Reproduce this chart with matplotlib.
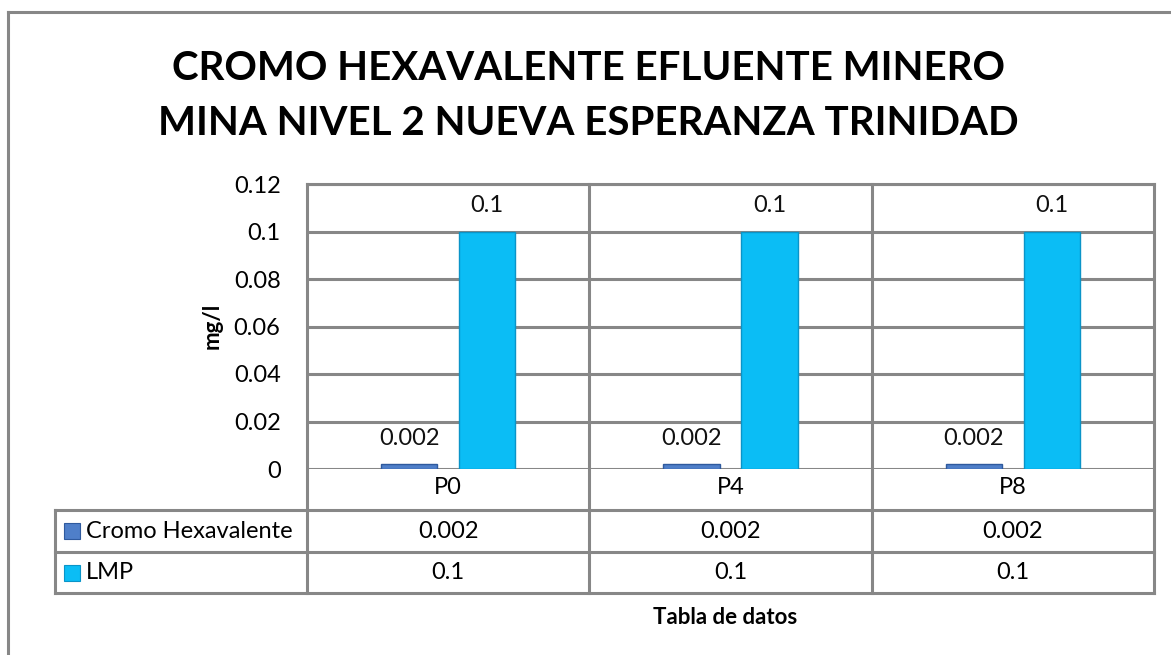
import matplotlib.pyplot as plt
from matplotlib.lines import Line2D
from matplotlib.patches import Rectangle
import matplotlib.transforms as mtransforms

# data
categories = ["P0", "P4", "P8"]
series_names = ["Cromo Hexavalente", "LMP"]
cromo = [0.002, 0.002, 0.002]
lmp = [0.1, 0.1, 0.1]
yticks = [0, 0.02, 0.04, 0.06, 0.08, 0.1, 0.12]
ytick_labels = ["0", "0.02", "0.04", "0.06", "0.08", "0.1", "0.12"]

W, H = 1171, 655
GRID = "#878787"
COLORS = ["#4F7FC9", "#0BBDF5"]
EDGES = ["#2F5A9E", "#0A94C8"]
FS = 17

plt.rcParams["font.family"] = ["Lato", "DejaVu Sans"]

fig = plt.figure(figsize=(W / 100, H / 100), dpi=100)


def fx(px):
    return px / W


def fy(py):
    return 1 - py / H


# plot area (pixel box of the reference)
left, right, top, bottom = 307, 1154, 184, 469
ax = fig.add_axes([fx(left), fy(bottom), fx(right - left), fy(top) - fy(bottom)])

n = len(categories)
x = list(range(n))
width = 0.2
offset = 0.138
series = [cromo, lmp]
for k, vals in enumerate(series):
    xs = [i + (2 * k - 1) * offset for i in x]
    ax.bar(xs, vals, width, color=COLORS[k], edgecolor=EDGES[k], linewidth=1.0, zorder=3)
    for xi, v in zip(xs, vals):
        ax.annotate(f"{v:g}", (xi, v), xytext=(0, 14), textcoords="offset points",
                    ha="center", va="baseline", fontsize=FS, color="#111111")

ax.set_xlim(-0.5, n - 0.5)
ax.set_ylim(0, 0.12)
ax.set_yticks(yticks)
ax.set_yticklabels(ytick_labels, fontsize=FS)
ax.set_xticks([])
ax.tick_params(axis="y", length=0, pad=19)
for s in ax.spines.values():
    s.set_visible(False)
ax.grid(axis="y", color=GRID, linewidth=2.2, zorder=0)
ax.set_axisbelow(True)

# data table below the plot
trans_ax = ax.transAxes
h_px = bottom - top


def ay(py):
    return (bottom - py) / h_px


def ax_x(px):
    return (px - left) / (right - left)


lw = 2.2
row_top, row_mid, row_bot = 510, 552, 593
table_left = 55
for xv in [0, 1]:
    ax.add_line(Line2D([xv, xv], [1, ay(row_bot)], transform=trans_ax, color=GRID, lw=lw, clip_on=False))
blend = mtransforms.blended_transform_factory(ax.transData, ax.transAxes)
for i in range(1, n):
    ax.add_line(Line2D([i - 0.5, i - 0.5], [1, ay(row_bot)], transform=blend, color=GRID, lw=lw, clip_on=False))
ax.add_line(Line2D([0, 1], [1, 1], transform=trans_ax, color=GRID, lw=lw, clip_on=False))
for py in [row_top, row_mid, row_bot]:
    ax.add_line(Line2D([ax_x(table_left), 1], [ay(py), ay(py)], transform=trans_ax, color=GRID, lw=lw, clip_on=False))
ax.add_line(Line2D([ax_x(table_left)] * 2, [ay(row_top), ay(row_bot)], transform=trans_ax, color=GRID, lw=lw, clip_on=False))

for i, c in enumerate(categories):
    ax.text(i, ay(487), c, transform=blend, ha="center", va="center", fontsize=FS)

row_centers = [(row_top + row_mid) / 2, (row_mid + row_bot) / 2]
for k, vals in enumerate(series):
    yc = ay(row_centers[k])
    for i, v in enumerate(vals):
        ax.text(i, yc, f"{v:g}", transform=blend, ha="center", va="center", fontsize=FS)
    ax.add_patch(Rectangle((ax_x(64), yc - 8 / h_px), 16 / (right - left), 16 / h_px, transform=trans_ax,
                           facecolor=COLORS[k], edgecolor=EDGES[k], lw=0.8, clip_on=False))
    ax.text(ax_x(86), yc, series_names[k], transform=trans_ax, ha="left", va="center", fontsize=FS)

# titles and labels
fig.text(fx(588), fy(80), "CROMO HEXAVALENTE EFLUENTE MINERO", ha="center", va="baseline",
         fontsize=29, fontweight="bold")
fig.text(fx(588), fy(135), "MINA NIVEL 2 NUEVA ESPERANZA TRINIDAD", ha="center", va="baseline",
         fontsize=29, fontweight="bold")
fig.text(fx(212), fy(326), "mg/l", rotation=90, ha="center", va="center", fontsize=16, fontweight="bold")
fig.text(fx(725), fy(617), "Tabla de datos", ha="center", va="center", fontsize=16, fontweight="bold")

# outer chart border (only left and top visible in the crop)
fig.add_artist(Line2D([fx(8), fx(8)], [fy(12), 0], transform=fig.transFigure, color=GRID, lw=2.2))
fig.add_artist(Line2D([fx(8), 1], [fy(12), fy(12)], transform=fig.transFigure, color=GRID, lw=2.2))

fig.savefig("out.png", dpi=100, facecolor="white")
